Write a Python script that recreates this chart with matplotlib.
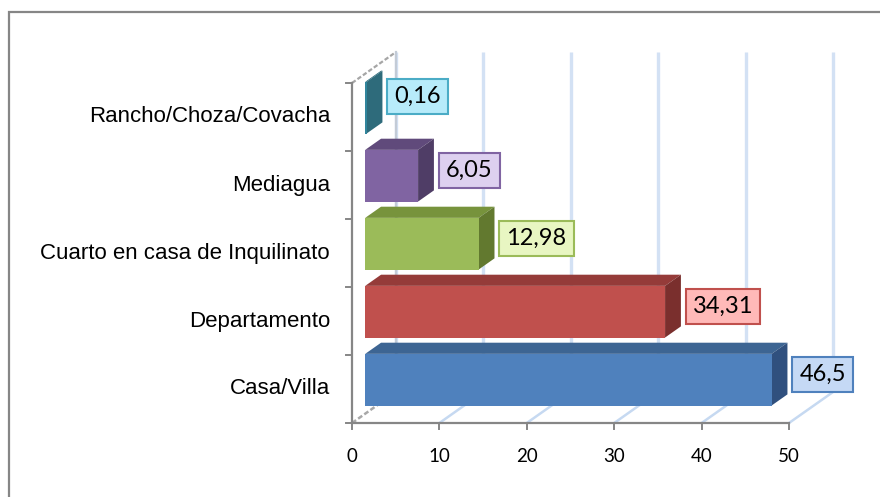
import numpy as np
import matplotlib.pyplot as plt
from matplotlib.patches import Polygon, Rectangle

# data (bottom to top, as in the chart)
categories = ["Casa/Villa", "Departamento", "Cuarto en casa de Inquilinato",
              "Mediagua", "Rancho/Choza/Covacha"]
values = [46.5, 34.31, 12.98, 6.05, 0.16]
xticks = [0, 10, 20, 30, 40, 50]

# office 2007 style colours: front, top, side, label fill, label edge
front_col = ["#4F81BD", "#C0504D", "#9BBB59", "#8064A2", "#31859C"]
top_col = ["#3D6593", "#953B39", "#77933C", "#604A7B", "#2A6878"]
side_col = ["#30507E", "#7A2F2D", "#62792F", "#4F3D66", "#2E6B7B"]
lab_fill = ["#C5D9F5", "#FFB9B8", "#E8F6C2", "#DDD0EF", "#B7EBFA"]
lab_edge = ["#4F81BD", "#C0504D", "#9BBB59", "#8064A2", "#4BACC6"]

W, H = 880, 497
fig = plt.figure(figsize=(W / 100, H / 100), dpi=100)
ax = fig.add_axes([0, 0, 1, 1])
ax.axis("off")

# scale: pixels per value unit / per category slot
px = (789 - 352) / 50.0
py = 68.0
ax.set_xlim(-352 / px, (W - 352) / px)
ax.set_ylim(-(H - 423) / py, 423 / py)

# oblique depth vector
DX = 44 / px
DY = 31 / py


def proj(x, y, z):
    return (x + z * DX, y + z * DY)


n = len(categories)
grid_c = "#D3E1F4"
axis_c = "#868686"

# back wall gridlines
for t in xticks:
    p0 = proj(t, 0, 1)
    p1 = proj(t, n, 1)
    ax.plot([p0[0], p1[0]], [p0[1], p1[1]], color=grid_c, lw=2.4, zorder=1,
            solid_capstyle="butt")

# floor diagonals
for t in xticks:
    p0 = proj(t, 0, 0)
    p1 = proj(t, 0, 1)
    c = "#A8A8A8" if t == 0 else "#C6D9F1"
    ax.plot([p0[0], p1[0]], [p0[1], p1[1]], color=c, lw=1.8, zorder=1,
            ls=(0, (2, 1)) if t == 0 else "-")

# left wall edges
p0, p1 = proj(0, n, 0), proj(0, n, 1)
ax.plot([p0[0], p1[0]], [p0[1], p1[1]], color="#A6A6A6", lw=1.6, zorder=1,
        ls=(0, (2, 1)))
p0, p1 = proj(0, 0, 1), proj(0, n, 1)
ax.plot([p0[0], p1[0]], [p0[1], p1[1]], color="#C3CBD6", lw=1.6, zorder=1)

# bars
z0, z1 = 0.3, 0.66
gap = 0.12
for i, v in enumerate(values):
    yb, yt = i + gap, i + 1 - gap
    front = [proj(0, yb, z0), proj(v, yb, z0), proj(v, yt, z0), proj(0, yt, z0)]
    top = [proj(0, yt, z0), proj(v, yt, z0), proj(v, yt, z1), proj(0, yt, z1)]
    side = [proj(v, yb, z0), proj(v, yb, z1), proj(v, yt, z1), proj(v, yt, z0)]
    ax.add_patch(Polygon(top, closed=True, fc=top_col[i], ec="none", zorder=3))
    ax.add_patch(Polygon(side, closed=True, fc=side_col[i], ec="none", zorder=3))
    ax.add_patch(Polygon(front, closed=True, fc=front_col[i], ec="none", zorder=4))

    lab = f"{v:g}".replace(".", ",")
    lx, ly = proj(v, i + 0.5, z1)
    ly = i + 0.5 + (z0 + z1) / 2 * DY + (6 / py if i == n - 1 else 0)
    ax.text(lx + 12 / px, ly, lab, ha="left", va="center", fontsize=17,
            family="Lato", zorder=6,
            bbox=dict(boxstyle="square,pad=0.3", fc=lab_fill[i],
                      ec=lab_edge[i], lw=1.5))

# front axes
ax.plot([0, xticks[-1]], [0, 0], color=axis_c, lw=1.6, zorder=5)
ax.plot([0, 0], [0, n], color=axis_c, lw=1.6, zorder=5)
for t in xticks:
    ax.plot([t, t], [0, -6 / py], color=axis_c, lw=1.4, zorder=5)
    ax.text(t, -34 / py, str(t), ha="center", va="center", fontsize=13.5,
            family="Lato", color="#000000")
for k in range(n + 1):
    ax.plot([-6 / px, 0], [k, k], color=axis_c, lw=1.4, zorder=5)

for i, c in enumerate(categories):
    ax.text(-22 / px, i + 0.5, c, ha="right", va="center", fontsize=16,
            family="Liberation Sans", color="#000000")

# outer chart border (only left/top edges fall inside the picture)
fig.add_artist(Rectangle((9 / W, -0.2), 1.2, 1.2 - 12 / H,
                         transform=fig.transFigure, fill=False,
                         ec=axis_c, lw=1.6))

fig.savefig("out.png", dpi=100)
